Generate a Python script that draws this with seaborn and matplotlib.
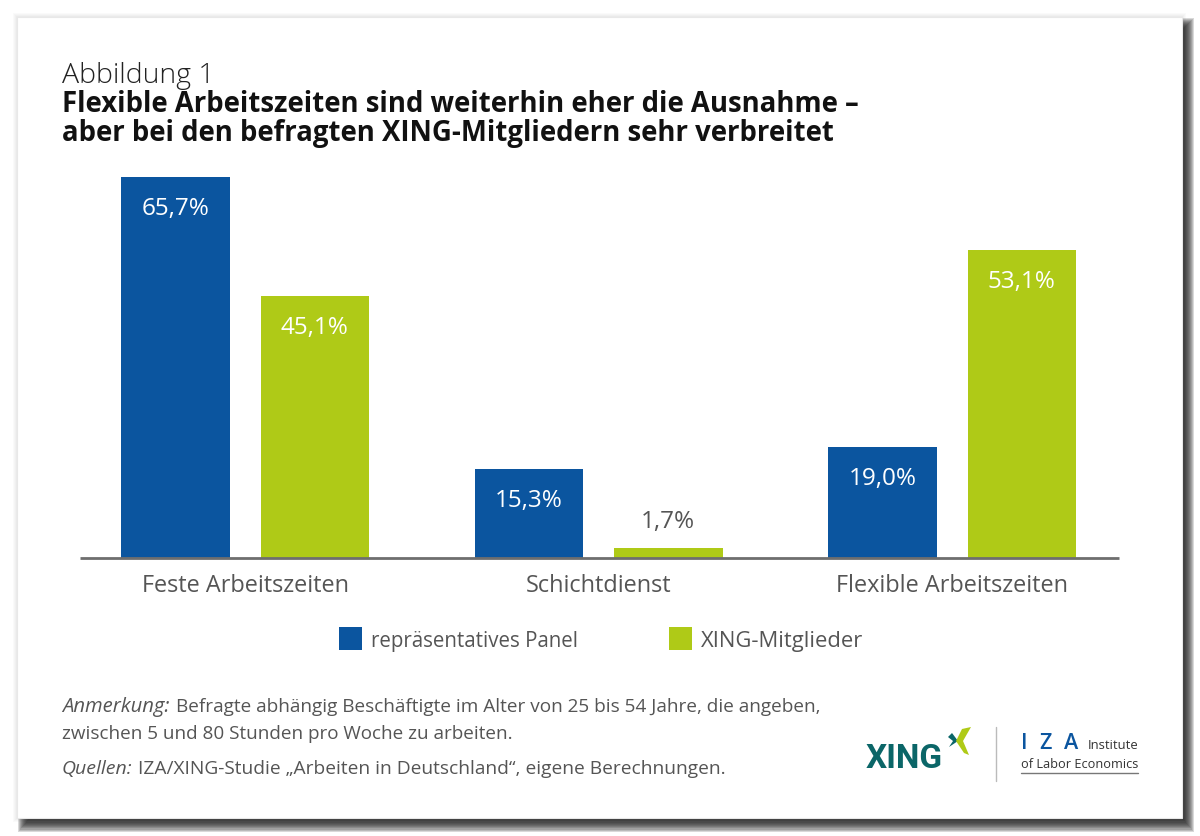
import matplotlib
matplotlib.use('Agg')
import matplotlib.pyplot as plt
from matplotlib.patches import Rectangle, Polygon
import pandas as pd
import seaborn as sns

categories = ['Feste Arbeitszeiten', 'Schichtdienst', 'Flexible Arbeitszeiten']
panel_values = [65.7, 15.3, 19.0]
xing_values = [45.1, 1.7, 53.1]
series_names = ['repräsentatives Panel', 'XING-Mitglieder']
colors = ['#0b559f', '#afca17']

sns.set_theme(style='white')
plt.rcParams['font.family'] = ['Open Sans', 'DejaVu Sans']

df = pd.DataFrame({
    'kategorie': categories * 2,
    'gruppe': [series_names[0]] * 3 + [series_names[1]] * 3,
    'wert': panel_values + xing_values,
})

fig = plt.figure(figsize=(12, 8.36), dpi=100, facecolor='white')

# page layer in pixels: shadow, card, texts and logos
bg = fig.add_axes([0, 0, 1, 1], zorder=0)
bg.set_xlim(0, 1200)
bg.set_ylim(836, 0)
bg.axis('off')

# faint glow on all sides, blurred shadow fading out to the lower right
for i in range(4, 0, -1):
    bg.add_patch(Rectangle((17 - i, 17 - i), 1165 + 2 * i, 801 + 2 * i, color='#222222', alpha=0.02, lw=0))
for i in range(12, 0, -1):
    x0, y0 = 30 - i, 30 - i
    bg.add_patch(Rectangle((x0, y0), 1182 + i - x0, 818 + 1.15 * i - y0, color='#222222', alpha=0.17, lw=0))
bg.add_patch(Rectangle((17, 17), 1165, 801, facecolor='white', edgecolor='#e8e8e8', lw=0.8))

ax = fig.add_axes([80 / 1200, 1 - 557.5 / 836, 1039 / 1200, 387.5 / 836], zorder=1)
ax.patch.set_alpha(0)
sns.barplot(data=df, x='kategorie', y='wert', hue='gruppe', order=categories,
            hue_order=series_names, palette=colors, width=0.789, gap=0.222,
            saturation=1, legend=False, linewidth=0, ax=ax)
ax.set_xlim(-0.4668, 2.472)
ax.set_ylim(0, 387.5 / 5.79)
ax.set_xlabel('')
ax.set_ylabel('')
ax.set_yticks([])
sns.despine(ax=ax, left=True)
ax.spines['bottom'].set_color('#6e6e6e')
ax.spines['bottom'].set_linewidth(2)
ax.spines['bottom'].set_capstyle('butt')
ax.tick_params(axis='x', length=0, pad=12, labelsize=16.9, labelcolor='#555555')

for cont in ax.containers:
    for bar in cont:
        h = bar.get_height()
        label = f'{h:.1f}%'.replace('.', ',')
        xc = bar.get_x() + bar.get_width() / 2
        if h < 5:
            ax.annotate(label, (xc, h), xytext=(0, 9.6), textcoords='offset points',
                        ha='center', va='bottom', fontsize=17.5, color='#555555')
        else:
            ax.annotate(label, (xc, h), xytext=(0, -23), textcoords='offset points',
                        ha='center', va='center', fontsize=17.5, color='white')

# titel
bg.text(62, 83, 'Abbildung 1', fontsize=20.5, color='#222222', va='baseline', fontweight='light')
bg.text(62, 112, 'Flexible Arbeitszeiten sind weiterhin eher die Ausnahme –', fontsize=19.85,
        fontweight='bold', color='#111111', va='baseline')
bg.text(62, 141, 'aber bei den befragten XING-Mitgliedern sehr verbreitet', fontsize=19.85,
        fontweight='bold', color='#111111', va='baseline')

# legende
bg.add_patch(Rectangle((339, 627), 23, 23, color=colors[0], lw=0))
bg.text(371, 647, series_names[0], fontsize=14.8, color='#555555', va='baseline')
bg.add_patch(Rectangle((669, 627), 23, 23, color=colors[1], lw=0))
bg.text(701, 647, series_names[1], fontsize=15.8, color='#555555', va='baseline')

# anmerkungen
note = '#555555'
bg.text(62, 712, 'Anmerkung:', fontsize=14.6, style='italic', color=note, va='baseline')
bg.text(176, 712, 'Befragte abhängig Beschäftigte im Alter von 25 bis 54 Jahre, die angeben,',
        fontsize=13.65, color=note, va='baseline')
bg.text(62, 739, 'zwischen 5 und 80 Stunden pro Woche zu arbeiten.', fontsize=13.6, color=note, va='baseline')
bg.text(62, 774, 'Quellen:', fontsize=14, style='italic', color=note, va='baseline')
bg.text(138, 774, 'IZA/XING-Studie „Arbeiten in Deutschland“, eigene Berechnungen.',
        fontsize=13.75, color=note, va='baseline')

# logos
bg.text(866, 768, 'XING', fontsize=24, fontweight='bold', color='#0b6668', va='baseline',
        family=['Roboto', 'DejaVu Sans'])
bg.add_patch(Polygon([[948, 737], [952, 733], [958, 741], [949, 747], [953, 741]], color='#0b6668', lw=0))
bg.add_patch(Polygon([[962, 729], [971, 727], [963, 741], [969, 755], [964, 753], [956, 741]], color='#afca17', lw=0))
bg.plot([996, 996], [727, 781], color='#bbbbbb', lw=1)
for letter, xpos in zip('IZA', [1021, 1039, 1064]):
    bg.text(xpos, 749, letter, fontsize=15.5, fontweight='semibold', color='#0b559f', va='baseline')
bg.text(1088, 749, 'Institute', fontsize=9.4, color='#333333', va='baseline')
bg.text(1021, 768, 'of Labor Economics', fontsize=9.2, color='#333333', va='baseline')
bg.plot([1021, 1138], [772.5, 772.5], color='#777777', lw=1)

fig.savefig('out.png', dpi=100)
